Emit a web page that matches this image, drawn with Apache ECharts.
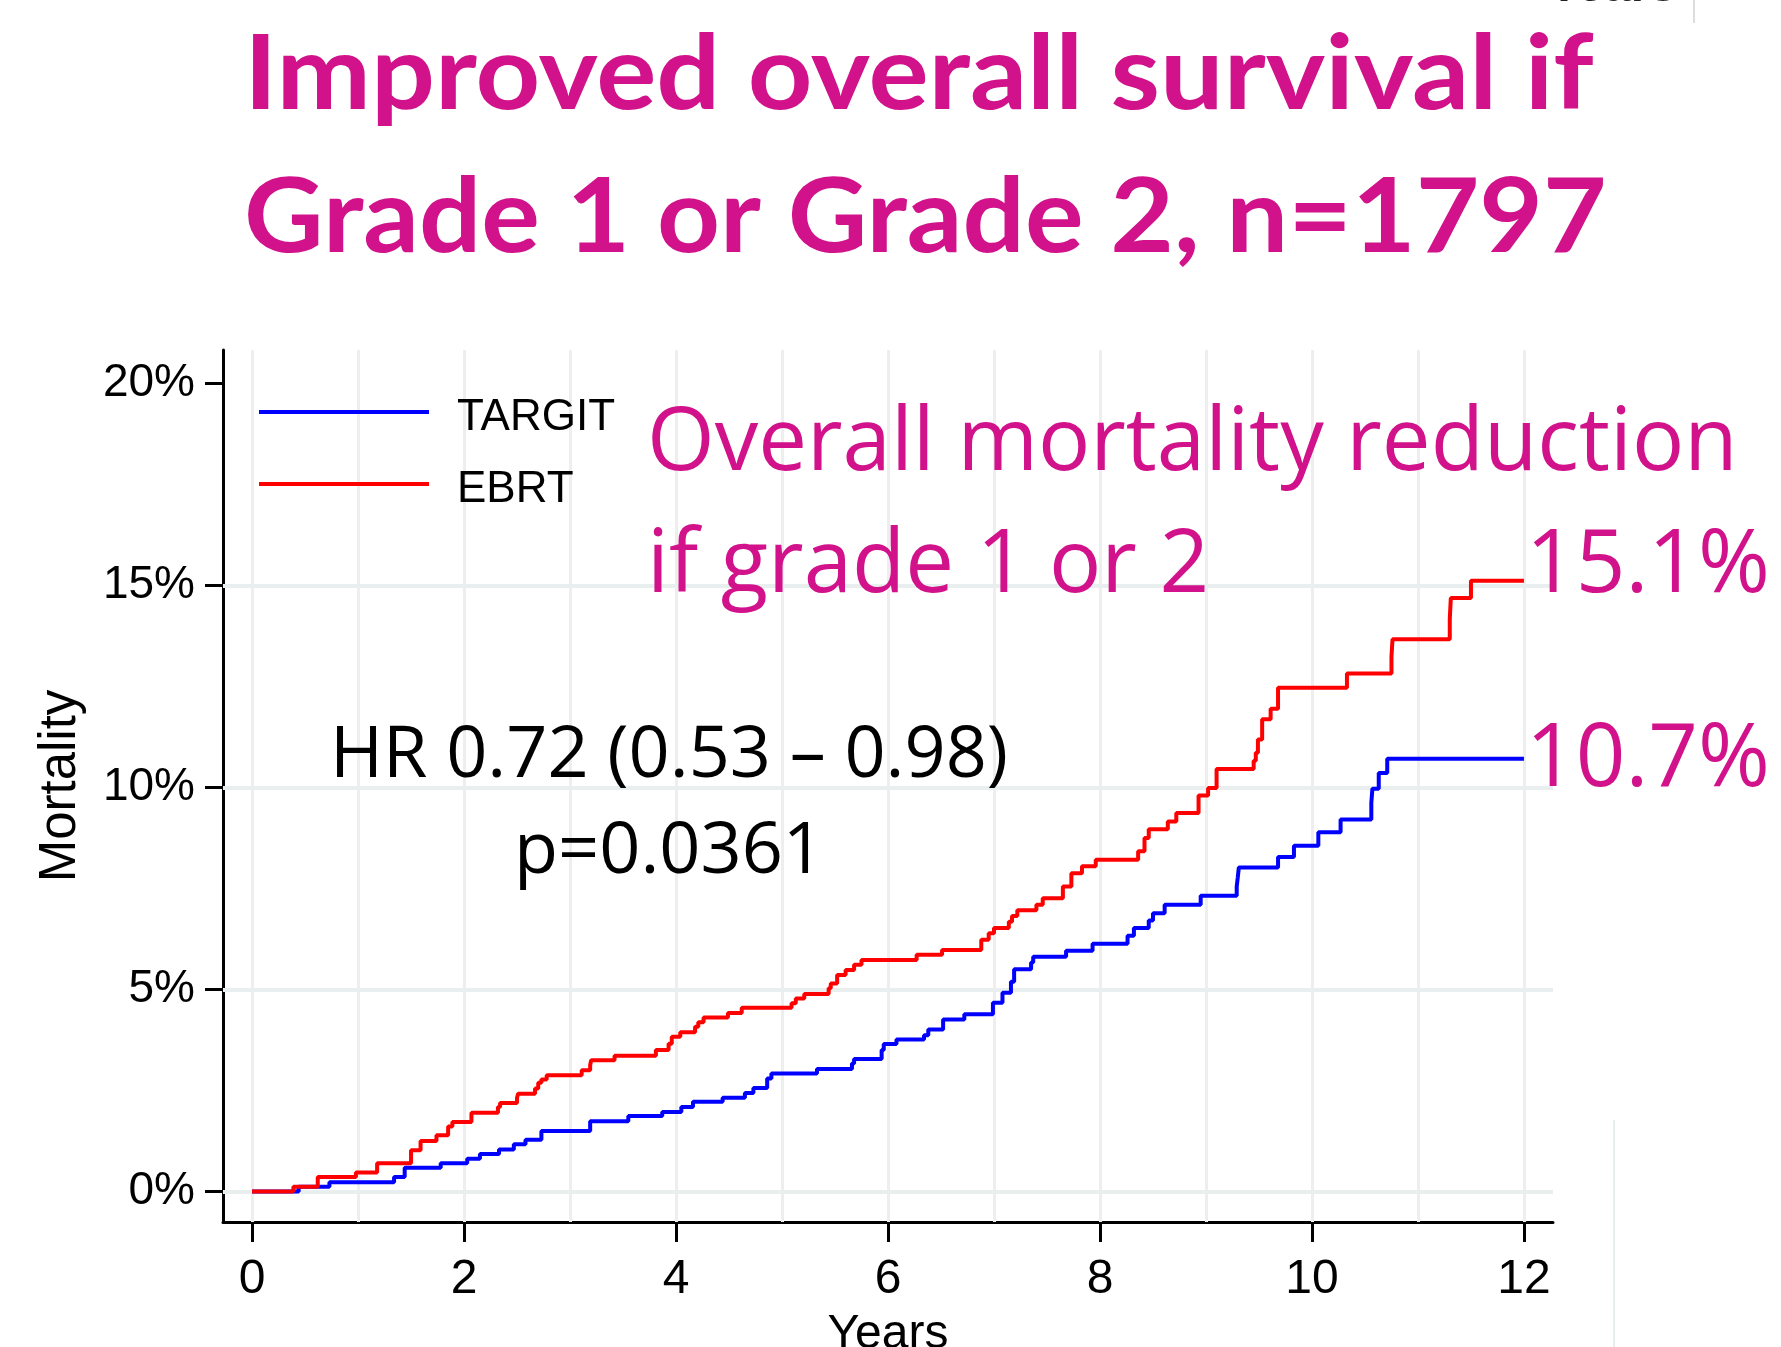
<!DOCTYPE html>
<html><head><meta charset="utf-8">
<script src="https://cdn.jsdelivr.net/npm/echarts@6/dist/echarts.min.js"></script>
<style>html,body{margin:0;padding:0;background:#fff}#c{width:1781px;height:1347px}</style>
</head><body><div id="c"></div>
<script>
// ---- data (years, cumulative mortality %) ----
const seriesNames = ['TARGIT', 'EBRT'];
const targitTimes = [0, 0.44, 0.73, 1.34, 1.44, 1.78, 2.03, 2.15, 2.33, 2.47, 2.58, 2.73, 3.19, 3.55, 3.87, 4.05, 4.16, 4.44, 4.65, 4.73, 4.86, 4.90, 5.33, 5.66, 5.68, 5.94, 5.96, 6.08, 6.34, 6.38, 6.52, 6.72, 6.99, 7.08, 7.16, 7.19, 7.35, 7.37, 7.68, 7.93, 8.26, 8.32, 8.46, 8.50, 8.61, 8.95, 9.29, 9.30, 9.31, 9.68, 9.83, 10.06, 10.27, 10.56, 10.57, 10.63, 10.71, 12.00];
const targitPct   = [0, 0.12, 0.23, 0.36, 0.59, 0.70, 0.81, 0.93, 1.04, 1.17, 1.28, 1.50, 1.74, 1.87, 1.97, 2.09, 2.22, 2.32, 2.44, 2.56, 2.80, 2.92, 3.03, 3.17, 3.28, 3.50, 3.65, 3.76, 3.87, 4.01, 4.26, 4.39, 4.67, 4.92, 5.19, 5.50, 5.67, 5.81, 5.96, 6.13, 6.33, 6.52, 6.71, 6.89, 7.10, 7.32, 7.55, 7.78, 8.02, 8.28, 8.56, 8.89, 9.21, 9.62, 9.97, 10.36, 10.71, 10.71];
const ebrtTimes = [0, 0.39, 0.62, 0.98, 1.18, 1.50, 1.59, 1.74, 1.85, 1.89, 2.07, 2.32, 2.34, 2.50, 2.51, 2.67, 2.70, 2.73, 2.78, 3.11, 3.19, 3.20, 3.42, 3.81, 3.93, 3.96, 4.04, 4.18, 4.21, 4.26, 4.49, 4.62, 5.09, 5.13, 5.21, 5.44, 5.46, 5.52, 5.60, 5.68, 5.75, 6.27, 6.51, 6.88, 6.95, 7.00, 7.14, 7.17, 7.22, 7.40, 7.46, 7.65, 7.73, 7.83, 7.96, 8.36, 8.42, 8.46, 8.64, 8.72, 8.93, 9.02, 9.10, 9.45, 9.47, 9.49, 9.53, 9.61, 9.68, 10.33, 10.75, 10.76, 11.30, 11.31, 11.50, 12.00];
const ebrtPct   = [0, 0.12, 0.36, 0.47, 0.70, 1.02, 1.25, 1.39, 1.61, 1.72, 1.95, 2.09, 2.19, 2.32, 2.42, 2.55, 2.69, 2.77, 2.88, 3.00, 3.13, 3.25, 3.36, 3.50, 3.66, 3.83, 3.94, 4.08, 4.19, 4.31, 4.42, 4.55, 4.66, 4.78, 4.89, 5.03, 5.15, 5.36, 5.48, 5.61, 5.73, 5.86, 5.98, 6.23, 6.39, 6.52, 6.68, 6.82, 6.96, 7.10, 7.26, 7.55, 7.88, 8.05, 8.21, 8.42, 8.75, 8.97, 9.16, 9.37, 9.80, 9.99, 10.46, 10.66, 10.86, 11.19, 11.69, 11.95, 12.47, 12.82, 13.24, 13.67, 14.17, 14.69, 15.12, 15.12];
const xTickValues = [0, 2, 4, 6, 8, 10, 12];
const yTickValues = [0, 5, 10, 15, 20];
const xGridValues = [0, 1, 2, 3, 4, 5, 6, 7, 8, 9, 10, 11, 12];
const yGridValues = [0, 5, 10, 15];
const xRange = [-0.274, 12.274];
const yRange = [-0.755, 20.83];

// ---- chart ----
const zip = (a, b) => a.map((t, i) => [t, b[i]]);
const MAG = '#d1128b';
const AX = 'Liberation Sans, Arial, sans-serif';
const chart = echarts.init(document.getElementById('c'), null, {renderer: 'canvas'});

const option = {
  animation: false,
  backgroundColor: '#ffffff',
  grid: {left: 223, top: 350, width: 1330, height: 872, containLabel: false, outerBoundsMode: 'none'},
  xAxis: {
    type: 'value', min: xRange[0], max: xRange[1],
    name: 'Years', nameLocation: 'middle', nameGap: 89,
    nameTextStyle: {fontFamily: AX, fontSize: 48, color: '#000'},
    axisLine: {show: true, onZero: false, lineStyle: {color: '#000', width: 3}},
    axisTick: {show: true, length: 20, lineStyle: {color: '#000', width: 3}, customValues: xTickValues},
    axisLabel: {fontFamily: AX, fontSize: 48, color: '#000', margin: 34, customValues: xTickValues},
    splitLine: {show: false}
  },
  yAxis: {
    type: 'value', min: yRange[0], max: yRange[1],
    name: 'Mortality', nameLocation: 'middle', nameGap: 137, nameRotate: 90,
    nameTextStyle: {fontFamily: AX, fontSize: 51, color: '#000'},
    axisLine: {show: true, onZero: false, lineStyle: {color: '#000', width: 3}},
    axisTick: {show: true, length: 18, lineStyle: {color: '#000', width: 3}, customValues: yTickValues},
    axisLabel: {fontFamily: AX, fontSize: 46, color: '#000', margin: 28, customValues: yTickValues,
      formatter: v => v + '%'},
    splitLine: {show: false}
  },
  legend: {
    data: seriesNames, orient: 'vertical', left: 259, top: 393, padding: 0,
    icon: 'path://M0,0H170V4H0Z M0,16h0.01v-0.01h-0.01Z', symbolKeepAspect: false,
    itemWidth: 170, itemHeight: 16, itemGap: 22,
    itemStyle: {borderWidth: 0},
    textStyle: {fontFamily: AX, fontSize: 44, color: '#000', lineHeight: 50, padding: [0, 0, 0, 23]}
  },
  series: [
    {
      name: '_grid', type: 'line', data: [], silent: true, z: 1,
      markLine: {
        silent: true, z: 1, symbol: ['none', 'none'], label: {show: false}, animation: false,
        data: [
          ...xGridValues.map(v => ({xAxis: v, lineStyle: {color: '#eeeeee', width: 3, type: 'solid'}})),
          ...yGridValues.map(v => ({yAxis: v, lineStyle: {color: '#e9efef', width: 4, type: 'solid'}}))
        ]
      }
    },
    {
      name: seriesNames[0], type: 'line', step: 'end', data: zip(targitTimes, targitPct),
      showSymbol: false, z: 3, color: '#0000ff',
      lineStyle: {color: '#0000ff', width: 4}, itemStyle: {color: '#0000ff'}
    },
    {
      name: seriesNames[1], type: 'line', step: 'end', data: zip(ebrtTimes, ebrtPct),
      showSymbol: false, z: 4, color: '#ff0000',
      lineStyle: {color: '#ff0000', width: 4}, itemStyle: {color: '#ff0000'}
    }
  ],
  graphic: {
    elements: [
      {type: 'text', x: 244, y: 23, z: 100, scaleX: 1.084, style: {text: 'Improved overall survival if', fontFamily: 'Lato', fontWeight: 'bold', fontSize: 104, fill: MAG}},
      {type: 'text', x: 244, y: 166, z: 100, scaleX: 1.056, style: {text: 'Grade 1 or Grade 2, n=1797', fontFamily: 'Lato', fontWeight: 'bold', fontSize: 104, fill: MAG}},
      {type: 'text', x: 647, y: 402, z: 100, style: {text: 'Overall mortality reduction', fontFamily: 'Open Sans', fontSize: 87, fill: MAG}},
      {type: 'text', x: 647, y: 524, z: 100, style: {text: 'if grade 1 or 2', fontFamily: 'Open Sans', fontSize: 87, fill: MAG}},
      {type: 'text', x: 1526, y: 524, z: 100, style: {text: '15.1%', fontFamily: 'Open Sans', fontSize: 87, fill: MAG}},
      {type: 'text', x: 1526, y: 718, z: 100, style: {text: '10.7%', fontFamily: 'Open Sans', fontSize: 87, fill: MAG}},
      {type: 'text', x: 669, y: 756, z: 100, style: {text: 'HR 0.72 (0.53 \u2013 0.98)', fontFamily: 'Open Sans', fontSize: 72, fill: '#000', align: 'center', verticalAlign: 'middle'}},
      {type: 'text', x: 669, y: 852, z: 100, style: {text: 'p=0.0361', fontFamily: 'Open Sans', fontSize: 72, fill: '#000', align: 'center', verticalAlign: 'middle'}},
      {type: 'text', x: 1548, y: -12, z: 100, style: {text: 'Years', fontFamily: AX, fontWeight: 'bold', fontSize: 48, fill: '#222', verticalAlign: 'middle'}},
      {type: 'line', z: 100, shape: {x1: 1694, y1: 0, x2: 1694, y2: 23}, style: {stroke: '#dddddd', lineWidth: 2}},
      {type: 'line', z: 100, shape: {x1: 1614, y1: 1120, x2: 1614, y2: 1347}, style: {stroke: '#e6eeee', lineWidth: 2}}
    ]
  }
};
chart.setOption(option);
</script>
</body></html>
